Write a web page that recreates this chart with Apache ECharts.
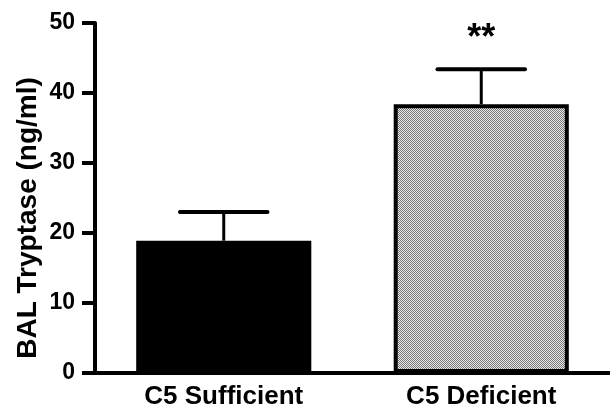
<!DOCTYPE html>
<html><head><meta charset="utf-8">
<script src="https://cdn.jsdelivr.net/npm/echarts@6/dist/echarts.min.js"></script>
<style>html,body{margin:0;padding:0;background:#fff}#c{width:610px;height:411px}</style>
</head><body><div id="c"></div>
<script>
var categories = ['C5 Sufficient', 'C5 Deficient'];
var means = [18.9, 38.4];
var errors = [4.1, 5.0];
var annotations = ['', '**'];
var yTicks = [0, 10, 20, 30, 40, 50];
var yTitle = 'BAL Tryptase (ng/ml)';

// fine hatched pattern for second bar
var pc = document.createElement('canvas');
pc.width = 2; pc.height = 2;
var pctx = pc.getContext('2d');
pctx.fillStyle = '#ececec'; pctx.fillRect(0,0,2,2);
pctx.fillStyle = '#767676';
pctx.fillRect(0,0,1,1); pctx.fillRect(1,1,1,1);

var chart = echarts.init(document.getElementById('c'), null, {renderer:'canvas'});
var font = '"Liberation Sans", Arial, sans-serif';
chart.setOption({
  animation:false,
  grid:{left:95, top:23, width:520, height:350, containLabel:false},
  graphic:[{type:'text', x:28, y:218, rotation:Math.PI/2,
    style:{text:yTitle, textAlign:'center', textVerticalAlign:'middle', fill:'#000', font:'bold 28px "Liberation Sans", Arial, sans-serif'}}],
  xAxis:{type:'category', data:categories, boundaryGap:true,
    axisLine:{lineStyle:{color:'#000', width:4}},
    axisTick:{alignWithLabel:true, length:9, lineStyle:{color:'#000', width:3}},
    axisLabel:{color:'#000', fontFamily:font, fontWeight:'bold', fontSize:26, margin:11}
  },
  yAxis:{type:'value', min:yTicks[0], max:yTicks[yTicks.length-1], interval:10,
    axisLine:{show:true, lineStyle:{color:'#000', width:4}},
    axisTick:{show:true, length:13, lineStyle:{color:'#000', width:4}},
    axisLabel:{color:'#000', fontFamily:font, fontWeight:'bold', fontSize:23, margin:20},
    splitLine:{show:false}
  },
  series:[
    {type:'bar', data:[
      {value:means[0], itemStyle:{color:'#000', borderColor:'#000', borderWidth:0}},
      {value:means[1], itemStyle:{color:{image:pc, repeat:'repeat'}, borderColor:'#000', borderWidth:4}}
    ], barWidth:'68%', z:2},
    {type:'custom', z:3,
      data:categories.map(function(c,i){return [i, means[i], means[i]+errors[i], annotations[i]];}),
      renderItem:function(params, api){
        var b = api.coord([api.value(0), api.value(1)]);
        var t = api.coord([api.value(0), api.value(2)]);
        var half = api.size([1,0])[0]*0.17;
        var children = [
          {type:'line', shape:{x1:b[0], y1:b[1], x2:t[0], y2:t[1]}, style:{stroke:'#000', lineWidth:3}},
          {type:'line', shape:{x1:t[0]-half, y1:t[1], x2:t[0]+half, y2:t[1]}, style:{stroke:'#000', lineWidth:4, lineCap:'round'}}
        ];
        var ann = annotations[params.dataIndex];
        if (ann) {
          children.push({type:'text', style:{text:ann, x:t[0], y:t[1]-12, textAlign:'center', textVerticalAlign:'bottom', fill:'#000', font:'bold 36px "Liberation Sans", Arial, sans-serif'}});
        }
        return {type:'group', children:children};
      }
    }
  ]
});
</script></body></html>
